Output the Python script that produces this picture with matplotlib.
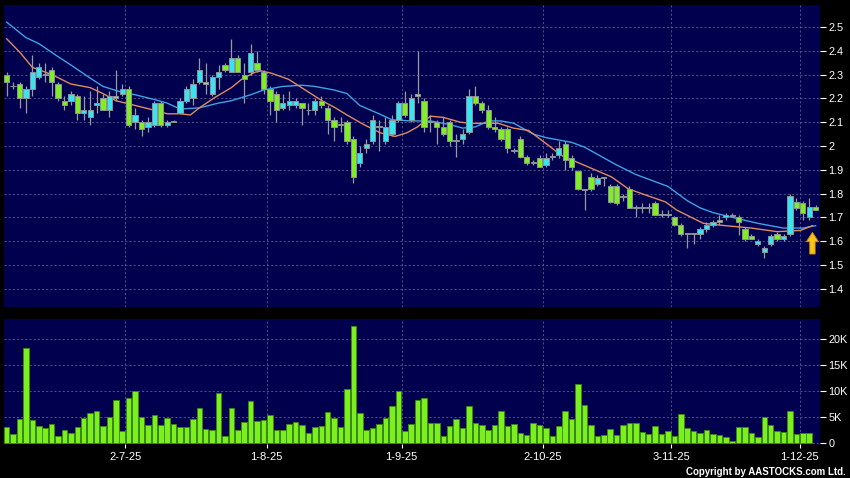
import matplotlib
matplotlib.use('Agg')
import matplotlib.pyplot as plt
import numpy as np
from matplotlib.patches import FancyArrow

# ---------------- data ----------------
opens = [2.30, 2.25, 2.26, 2.20, 2.24, 2.29, 2.30, 2.32, 2.26, 2.19,
         2.19, 2.21, 2.14, 2.12, 2.17, 2.20, 2.15, 2.21, 2.22, 2.24,
         2.10, 2.10, 2.08, 2.09, 2.18, 2.09, 2.10, 2.14, 2.19, 2.20,
         2.27, 2.27, 2.22, 2.29, 2.34, 2.31, 2.37, 2.30, 2.31, 2.35,
         2.31, 2.24, 2.22, 2.16, 2.17, 2.17, 2.18, 2.15, 2.15, 2.19,
         2.16, 2.11, 2.09, 2.10, 2.03, 1.93, 1.99, 2.02, 2.08, 2.02,
         2.05, 2.11, 2.18, 2.11, 2.22, 2.19, 2.10, 2.10, 2.08, 2.10,
         2.02, 2.03, 2.06, 2.21, 2.18, 2.15, 2.08, 2.07, 2.07, 1.98,
         2.03, 1.955, 1.93, 1.95, 1.92, 1.955, 1.96, 2.01, 1.95, 1.895,
         1.815, 1.87, 1.84, 1.865, 1.83, 1.83, 1.785, 1.82, 1.74, 1.74,
         1.74, 1.76, 1.71, 1.71, 1.70, 1.67, 1.63, 1.63, 1.63, 1.65,
         1.67, 1.69, 1.70, 1.705, 1.70, 1.65, 1.62, 1.59, 1.555, 1.59,
         1.63, 1.61, 1.63, 1.765, 1.76, 1.70, 1.745]
highs = [2.31, 2.27, 2.27, 2.25, 2.38, 2.35, 2.35, 2.33, 2.27, 2.21,
         2.23, 2.22, 2.21, 2.23, 2.25, 2.22, 2.23, 2.32, 2.26, 2.25,
         2.16, 2.11, 2.12, 2.19, 2.19, 2.11, 2.11, 2.20, 2.25, 2.28,
         2.37, 2.35, 2.30, 2.34, 2.35, 2.45, 2.38, 2.35, 2.43, 2.40,
         2.32, 2.25, 2.23, 2.22, 2.23, 2.20, 2.18, 2.18, 2.20, 2.21,
         2.17, 2.12, 2.12, 2.11, 2.04, 2.00, 2.03, 2.13, 2.11, 2.12,
         2.13, 2.19, 2.23, 2.22, 2.40, 2.20, 2.13, 2.11, 2.12, 2.11,
         2.05, 2.07, 2.24, 2.25, 2.19, 2.17, 2.12, 2.08, 2.08, 1.99,
         2.04, 1.96, 1.94, 1.96, 1.97, 1.97, 2.02, 2.02, 1.96, 1.90,
         1.82, 1.885, 1.88, 1.87, 1.84, 1.84, 1.80, 1.83, 1.75, 1.76,
         1.76, 1.77, 1.73, 1.73, 1.705, 1.675, 1.635, 1.635, 1.66, 1.68,
         1.69, 1.71, 1.72, 1.72, 1.71, 1.66, 1.63, 1.61, 1.58, 1.63,
         1.64, 1.63, 1.80, 1.78, 1.77, 1.78, 1.75]
lows = [2.21, 2.24, 2.16, 2.14, 2.21, 2.28, 2.27, 2.21, 2.19, 2.15,
        2.17, 2.11, 2.11, 2.09, 2.14, 2.15, 2.12, 2.19, 2.21, 2.08,
        2.07, 2.04, 2.06, 2.08, 2.08, 2.08, 2.10, 2.14, 2.18, 2.17,
        2.26, 2.22, 2.21, 2.24, 2.31, 2.31, 2.31, 2.18, 2.30, 2.31,
        2.22, 2.13, 2.10, 2.15, 2.15, 2.16, 2.09, 2.13, 2.13, 2.16,
        2.05, 2.02, 2.06, 2.01, 1.845, 1.91, 1.97, 2.01, 1.98, 2.01,
        2.04, 2.10, 2.12, 2.10, 2.18, 2.06, 2.06, 2.01, 2.04, 2.00,
        1.955, 2.01, 2.05, 2.17, 2.14, 2.07, 2.06, 2.02, 1.97, 1.97,
        1.95, 1.92, 1.92, 1.91, 1.91, 1.94, 1.95, 1.90, 1.90, 1.815,
        1.73, 1.81, 1.83, 1.83, 1.76, 1.75, 1.77, 1.74, 1.70, 1.72,
        1.72, 1.71, 1.70, 1.70, 1.665, 1.62, 1.57, 1.59, 1.61, 1.64,
        1.66, 1.67, 1.69, 1.70, 1.625, 1.60, 1.61, 1.58, 1.53, 1.58,
        1.60, 1.60, 1.62, 1.73, 1.69, 1.69, 1.73]
closes = [2.27, 2.25, 2.20, 2.24, 2.31, 2.33, 2.30, 2.27, 2.20, 2.17,
          2.22, 2.14, 2.15, 2.15, 2.18, 2.15, 2.21, 2.20, 2.24, 2.09,
          2.13, 2.07, 2.10, 2.18, 2.09, 2.10, 2.10, 2.19, 2.24, 2.26,
          2.32, 2.26, 2.29, 2.31, 2.32, 2.37, 2.31, 2.28, 2.39, 2.32,
          2.24, 2.19, 2.15, 2.18, 2.19, 2.19, 2.16, 2.15, 2.19, 2.17,
          2.11, 2.08, 2.09, 2.02, 1.87, 1.97, 2.01, 2.11, 2.08, 2.08,
          2.11, 2.18, 2.13, 2.20, 2.21, 2.08, 2.10, 2.08, 2.05, 2.02,
          2.02, 2.05, 2.21, 2.18, 2.15, 2.08, 2.07, 2.03, 1.99, 1.98,
          1.955, 1.93, 1.93, 1.91, 1.95, 1.955, 1.99, 1.94, 1.91, 1.82,
          1.815, 1.82, 1.865, 1.865, 1.765, 1.76, 1.785, 1.74, 1.74, 1.74,
          1.74, 1.71, 1.715, 1.71, 1.67, 1.63, 1.63, 1.63, 1.65, 1.67,
          1.68, 1.68, 1.71, 1.705, 1.68, 1.61, 1.61, 1.60, 1.57, 1.62,
          1.61, 1.62, 1.79, 1.74, 1.72, 1.745, 1.73]
# volume (thousands); the last session shows no volume bar in the reference
volumes_k = [3.1, 1.8, 4.6, 18.2, 4.4, 3.35, 3.0, 3.8, 1.5, 2.6,
             2.1, 3.2, 4.8, 5.9, 6.3, 3.4, 5.1, 8.3, 2.4, 8.8,
             10.1, 5.1, 3.5, 5.4, 3.5, 4.9, 3.7, 3.2, 3.2, 4.7,
             6.8, 2.8, 2.5, 9.7, 1.4, 6.7, 2.6, 4.1, 8.1, 4.3,
             4.4, 5.5, 2.6, 2.6, 3.7, 4.1, 3.5, 2.1, 3.1, 3.3,
             6.1, 4.9, 3.1, 10.4, 22.5, 5.9, 2.6, 3.0, 3.8, 4.9,
             7.2, 10.0, 2.4, 3.7, 8.3, 8.8, 4.0, 3.9, 1.4, 3.35,
             4.7, 2.9, 7.2, 4.0, 3.6, 2.5, 3.5, 6.2, 3.35, 3.7,
             2.0, 1.6, 4.0, 3.5, 3.0, 1.4, 3.4, 6.2, 4.6, 11.4,
             7.3, 3.5, 1.5, 1.6, 2.8, 1.6, 3.5, 4.0, 4.0, 2.2,
             1.8, 3.35, 1.8, 2.3, 1.4, 5.6, 3.0, 2.3, 2.1, 2.5,
             1.8, 1.6, 1.2, 0.55, 3.1, 3.1, 2.1, 1.3, 5.0, 3.5,
             2.3, 2.2, 6.3, 1.9, 2.1, 2.1]

# moving-average lines, read at sample candles
ma_slow_idx = [0, 3, 5, 8, 10, 13, 15, 18, 20, 23, 25, 27, 30, 33, 35, 38, 40, 43,
               46, 48, 51, 53, 55, 58, 60, 63, 66, 69, 71, 73, 75, 77, 79, 82, 84,
               88, 90, 92, 95, 98, 100, 103, 106, 108, 110, 113, 117, 121, 124, 126]
ma_slow_val = [2.52, 2.455, 2.43, 2.375, 2.34, 2.285, 2.25, 2.225, 2.215, 2.195, 2.18,
               2.155, 2.16, 2.18, 2.19, 2.215, 2.235, 2.25, 2.255, 2.25, 2.235, 2.22,
               2.17, 2.135, 2.11, 2.105, 2.105, 2.09, 2.075, 2.08, 2.105, 2.105, 2.095,
               2.05, 2.035, 2.015, 1.995, 1.965, 1.92, 1.88, 1.86, 1.83, 1.77, 1.74,
               1.72, 1.70, 1.675, 1.655, 1.655, 1.665]
ma_fast_idx = [0, 2, 4, 5, 7, 10, 13, 15, 17, 20, 23, 25, 27, 28.6, 30, 32.5, 35, 36.6,
               38.7, 39.7, 41.3, 43.9, 46.5, 49.1, 51.2, 53, 55.6, 58.2, 60.5, 62.3,
               64, 66, 68, 70.6, 72.2, 74.2, 76.6, 78.9, 81.3, 84.5, 86.4, 89, 91.6,
               94.2, 96.8, 99.4, 102.6, 104.4, 108.5, 112, 116, 120, 123.6, 125.5]
ma_fast_val = [2.45, 2.395, 2.33, 2.32, 2.30, 2.26, 2.245, 2.22, 2.19, 2.17, 2.15,
               2.135, 2.135, 2.13, 2.16, 2.205, 2.245, 2.28, 2.31, 2.315, 2.305, 2.28,
               2.235, 2.19, 2.16, 2.13, 2.09, 2.055, 2.04, 2.055, 2.08, 2.125, 2.12,
               2.10, 2.095, 2.095, 2.095, 2.075, 2.065, 2.00, 1.96, 1.93, 1.90, 1.87,
               1.82, 1.795, 1.765, 1.73, 1.675, 1.665, 1.655, 1.64, 1.645, 1.665]

tick_labels = ['2-7-25', '1-8-25', '1-9-25', '2-10-25', '3-11-25', '1-12-25']
tick_candle = [19, 41, 62, 84, 104, 124]
price_ticks = [1.4, 1.5, 1.6, 1.7, 1.8, 1.9, 2.0, 2.1, 2.2, 2.3, 2.4, 2.5]
vol_ticks = [0, 5, 10, 15, 20]
vol_tick_labels = ['0', '5K', '10K', '15K', '20K']

# ---------------- style ----------------
plt.rcParams['font.family'] = ['Liberation Sans', 'DejaVu Sans']
BG = '#000000'
PANEL = '#00004e'
GRID = '#5c5c96'
UP = '#38e4f2'
DOWN = '#80ee22'
EDGE = '#8a9696'
WICK = '#9a9a9a'
VOL = '#7cf01e'
VOL_EDGE = '#3a8a0c'

W, H = 850, 478
fig = plt.figure(figsize=(W / 100, H / 100), dpi=100, facecolor=BG)
ax1 = fig.add_axes([4 / W, 1 - 307 / H, 816 / W, 302 / H], facecolor=PANEL)
ax2 = fig.add_axes([4 / W, 1 - 444 / H, 816 / W, 125 / H], facecolor=PANEL)

x = np.arange(len(opens))
o = np.array(opens)
c = np.array(closes)
h = np.array(highs)
l = np.array(lows)
colors = [UP if cc > oo else (DOWN if cc < oo else EDGE) for oo, cc in zip(o, c)]

xlim = (-0.42, 126.68)
tick_pos = [t - 0.5 for t in tick_candle]
grid_kw = dict(color=GRID, linestyle=(0, (2.5, 2.5)), linewidth=0.6)

# price panel
ax1.vlines(x, l, h, color=WICK, linewidth=0.9, zorder=2)
ax1.plot(ma_slow_idx, ma_slow_val, color='#3ea2e6', linewidth=1.0, zorder=2.5)
ax1.plot(ma_fast_idx, ma_fast_val, color='#e08c5e', linewidth=1.0, zorder=2.6)
ax1.bar(x, np.maximum(np.abs(c - o), 0.003), bottom=np.minimum(o, c), width=0.82,
        color=colors, edgecolor=EDGE, linewidth=0.7, zorder=3)
ax1.add_patch(FancyArrow(x[-1] - 0.5, 1.546, 0, 0.0915, width=0.85, head_width=1.9,
                         head_length=0.04, length_includes_head=True,
                         facecolor='#f6c41c', edgecolor='#c98400', linewidth=0.6, zorder=5))
ax1.set_xlim(*xlim)
ax1.set_ylim(1.3235, 2.592)
ax1.set_yticks(price_ticks)
ax1.set_yticklabels([f'{v:g}' for v in price_ticks])
ax1.set_xticks(tick_pos)
ax1.yaxis.tick_right()
ax1.tick_params(axis='y', colors='white', length=4, width=0.8, pad=2, labelsize=7.8)
ax1.tick_params(axis='x', length=0, labelbottom=False)
ax1.grid(True, **grid_kw)
ax1.set_axisbelow(True)

# volume panel
xv = np.arange(len(volumes_k))
ax2.bar(xv, volumes_k, width=0.86, color=VOL, edgecolor=VOL_EDGE, linewidth=0.6, zorder=3)
ax2.set_xlim(*xlim)
ax2.set_ylim(-0.1, 23.83)
ax2.set_yticks(vol_ticks)
ax2.set_yticklabels(vol_tick_labels)
ax2.set_xticks(tick_pos)
ax2.set_xticklabels(tick_labels)
ax2.yaxis.tick_right()
ax2.tick_params(axis='y', colors='white', length=4, width=0.8, pad=2, labelsize=7.8)
ax2.tick_params(axis='x', colors='white', length=3, width=0.8, pad=3, labelsize=8)
ax2.grid(True, **grid_kw)
ax2.set_axisbelow(True)

for ax in (ax1, ax2):
    for s in ax.spines.values():
        s.set_visible(False)

fig.text(1 - 4 / W, 1 - 472 / H, 'Copyright by AASTOCKS.com Ltd.', ha='right', va='center',
         color='white', fontsize=7, fontweight='bold')

fig.savefig('out.png', dpi=100, facecolor=BG)
